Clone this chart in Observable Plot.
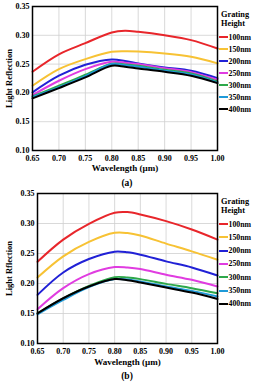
<!DOCTYPE html>
<html><head><meta charset="utf-8">
<script src="https://cdn.jsdelivr.net/npm/d3@7"></script>
<script src="https://cdn.jsdelivr.net/npm/@observablehq/plot@0.6"></script>
<style>
body{margin:0;background:#fff;font-family:"Liberation Serif","DejaVu Serif",serif;font-weight:bold;}
#page{position:relative;width:254px;height:392px;overflow:hidden;}
.panel{position:absolute;left:0;}
.cap{position:absolute;left:0;width:254px;text-align:center;font-size:9.5px;line-height:10px;}
.legend{position:absolute;left:219px;font-size:7.8px;}
.legend .t{position:absolute;left:2px;font-size:8.3px;line-height:9px;white-space:nowrap;}
.legend .e{position:absolute;left:0;height:8px;display:flex;align-items:center;white-space:nowrap;}
.legend .sw{width:9px;height:2px;margin-right:0.5px;}
svg text{font-family:"Liberation Serif","DejaVu Serif",serif;font-weight:bold;}
</style></head>
<body><div id="page"></div>
<script>
const wavelengths = [0.65, 0.70, 0.75, 0.80, 0.825, 0.85, 0.90, 0.95, 1.00];
const heights = ["100nm","150nm","200nm","250nm","300nm","350nm","400nm"];
const colors = ["#e8262b","#f7c234","#2121d6","#e03ce0","#2ea84a","#1f9ad8","#000000"];
const xTicks = [0.65,0.70,0.75,0.80,0.85,0.90,0.95,1.00];
const yTicks = [0.10,0.15,0.20,0.25,0.30,0.35];

// Panel (a)
const a100 = [0.2367,0.267,0.2864,0.305,0.3078,0.306,0.300,0.2916,0.277];
const a150 = [0.2124,0.2413,0.2587,0.2714,0.2725,0.272,0.2685,0.2627,0.2512];
const a200 = [0.2009,0.2298,0.2488,0.258,0.2555,0.2512,0.2442,0.2384,0.2257];
const a250 = [0.1962,0.2211,0.2413,0.254,0.2525,0.250,0.243,0.2361,0.2228];
const a300 = [0.194,0.2124,0.2315,0.2506,0.2495,0.247,0.240,0.2338,0.220];
const a350 = [0.1928,0.210,0.2292,0.250,0.248,0.2454,0.2384,0.232,0.218];
const a400 = [0.1905,0.2084,0.2269,0.2471,0.2455,0.2425,0.2367,0.2298,0.217];

// Panel (b)
const b100 = [0.2363,0.2732,0.2994,0.3179,0.319,0.315,0.3039,0.290,0.2732];
const b150 = [0.210,0.2453,0.2693,0.2844,0.284,0.2799,0.2665,0.2536,0.2397];
const b200 = [0.181,0.2184,0.2408,0.2531,0.252,0.248,0.2369,0.2268,0.2134];
const b250 = [0.157,0.1922,0.2156,0.2274,0.2265,0.224,0.2145,0.2061,0.195];
const b300 = [0.1503,0.1754,0.1961,0.2106,0.210,0.2073,0.1994,0.1922,0.1838];
const b350 = [0.1486,0.1726,0.1939,0.2073,0.2065,0.2034,0.195,0.1877,0.1782];
const b400 = [0.1503,0.1754,0.195,0.2073,0.2055,0.2017,0.1933,0.1849,0.1743];

function rows(series){
  const out=[];
  series.forEach((s,i)=>s.forEach((v,j)=>out.push({x:wavelengths[j],y:v,h:heights[i]})));
  return out;
}

function makePlot(series, opt){
  return Plot.plot({
    width:254, height:opt.height,
    marginTop:6, marginBottom:opt.mb, marginLeft:opt.ml, marginRight:254-217,
    style:{background:"transparent",fontSize:"8px"},
    x:{domain:[0.65,1.00]},
    y:{domain:[0.10,0.35]},
    color:{domain:heights, range:colors},
    marks:[
      Plot.gridX(xTicks,{stroke:"#cfcfcf",strokeOpacity:1,strokeWidth:0.8}),
      Plot.gridY(yTicks,{stroke:"#cfcfcf",strokeOpacity:1,strokeWidth:0.8}),
      Plot.axisX(xTicks,{tickFormat:d3.format(".2f"),tickSize:0,tickPadding:5,fontSize:8,label:null}),
      Plot.axisY(yTicks,{tickFormat:d3.format(".2f"),tickSize:0,tickPadding:3,fontSize:8,label:null}),
      Plot.axisX({ticks:[],tickSize:0,fontSize:9,label:"Wavelength (µm)",labelAnchor:"center",labelArrow:"none",labelOffset:opt.xlo}),
      Plot.axisY({ticks:[],tickSize:0,fontSize:8.5,label:opt.ylabel,labelAnchor:"center",labelArrow:"none",labelOffset:opt.ylo}),
      Plot.line(rows(series),{x:"x",y:"y",z:"h",stroke:"h",strokeWidth:2,curve:"catmull-rom"}),
      Plot.frame({stroke:"#000",strokeWidth:1.5})
    ]
  });
}

function legend(top, titleGap, step, first){
  const L=document.createElement("div");
  L.className="legend"; L.style.top=top+"px";
  const t1=document.createElement("div"); t1.className="t"; t1.textContent="Grating"; t1.style.top="0px";
  const t2=document.createElement("div"); t2.className="t"; t2.textContent="Height"; t2.style.top=titleGap+"px";
  L.append(t1,t2);
  heights.forEach((h,i)=>{
    const e=document.createElement("div"); e.className="e"; e.style.top=(first+i*step)+"px";
    const sw=document.createElement("span"); sw.className="sw"; sw.style.background=colors[i];
    const tx=document.createElement("span"); tx.textContent=h;
    e.append(sw,tx); L.append(e);
  });
  return L;
}

const page=document.getElementById("page");
const pa=document.createElement("div"); pa.className="panel"; pa.style.top="0px";
pa.append(makePlot([a100,a150,a200,a250,a300,a350,a400],{height:176,mb:26,ml:32,xlo:20,ylo:27,ylabel:"Light Reflection"}));
page.append(pa);
const ca=document.createElement("div"); ca.className="cap"; ca.style.top="178px"; ca.textContent="(a)"; page.append(ca);
page.append(legend(10,8.5,12,23));

const pb=document.createElement("div"); pb.className="panel"; pb.style.top="187px";
pb.append(makePlot([b100,b150,b200,b250,b300,b350,b400],{height:184,mb:28,ml:37,xlo:21,ylo:32,ylabel:"Light Rflection"}));
page.append(pb);
const cb=document.createElement("div"); cb.className="cap"; cb.style.top="371px"; cb.textContent="(b)"; page.append(cb);
page.append(legend(197,9,13.3,23));
</script></body></html>
